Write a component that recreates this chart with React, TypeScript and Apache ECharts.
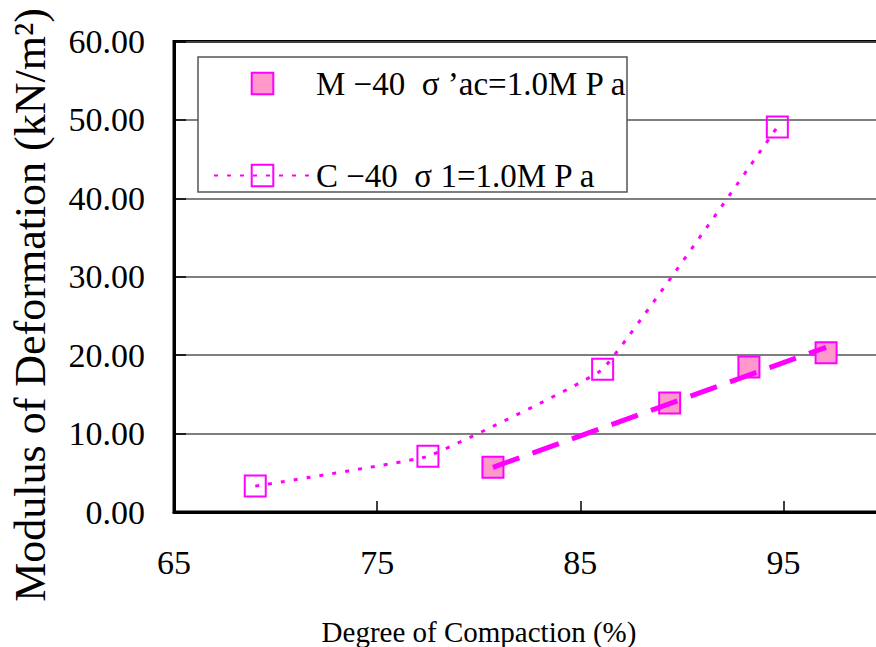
import React, { useEffect, useRef } from "react";
import * as echarts from "echarts";

// Data
const mCompaction = [80.7, 89.4, 93.3, 97.1];
const mModulus = [5.7, 13.9, 18.5, 20.3];
const cCompaction = [69.0, 77.5, 86.1, 94.7];
const cModulus = [3.3, 7.1, 18.2, 49.1];
// dashed trend line of M-40 (end points)
const mTrendCompaction = [80.7, 97.1];
const mTrendModulus = [5.7, 21.0];

const seriesNames = ["M −40  σ ’ac=1.0M P a", "C −40  σ 1=1.0M P a"];
const xTitle = "Degree of Compaction (%)";
const yTitle = "Modulus of Deformation (kN/m²)";

const MAGENTA = "#FF00FF";
const PINK = "#FF99CC";
const SERIF = "Liberation Serif";

export default function App() {
  const ref = useRef<HTMLDivElement>(null);

  useEffect(() => {
    if (!ref.current) return;
    const chart = echarts.init(ref.current, undefined, { renderer: "svg" });
    const mData = mCompaction.map((x, i) => [x, mModulus[i]]);
    const cData = cCompaction.map((x, i) => [x, cModulus[i]]);
    const tData = mTrendCompaction.map((x, i) => [x, mTrendModulus[i]]);

    chart.setOption({
      animation: false,
      backgroundColor: "#fff",
      textStyle: { fontFamily: SERIF },
      grid: {
        left: 174,
        top: 41.5,
        width: 711,
        height: 470.5,
        outerBoundsMode: "none",
        containLabel: false,
        show: true,
        borderColor: "#000",
        borderWidth: 3,
        backgroundColor: "transparent",
      },
      xAxis: {
        type: "value",
        min: 65,
        max: 100,
        interval: 10,
        axisLine: { lineStyle: { color: "#000", width: 3 } },
        axisTick: { inside: true, length: 11, lineStyle: { color: "#000", width: 1.5 } },
        axisLabel: {
          fontSize: 34,
          fontFamily: SERIF,
          color: "#000",
          margin: 33,
          showMaxLabel: false,
        },
        splitLine: { show: false },
      },
      yAxis: {
        type: "value",
        min: 0,
        max: 60,
        interval: 10,
        axisLine: { show: true, lineStyle: { color: "#000", width: 3 } },
        axisTick: { show: true, inside: true, length: 12, lineStyle: { color: "#000", width: 1.5 } },
        axisLabel: {
          fontSize: 34,
          fontFamily: SERIF,
          color: "#000",
          margin: 29,
          formatter: (v: number) => v.toFixed(2),
        },
        splitLine: { show: true, lineStyle: { color: "#555", width: 1.5 } },
      },
      legend: {
        orient: "vertical",
        left: 198,
        top: 57,
        padding: [10, 4, 11, 15],
        itemWidth: 97,
        itemHeight: 27,
        itemGap: 59,
        selectedMode: false,
        z: 6,
        textStyle: { fontFamily: SERIF, fontSize: 33, color: "#000" },
        data: [
          { name: seriesNames[0], lineStyle: { opacity: 0, width: 0 } },
          { name: seriesNames[1] },
        ],
      },
      graphic: [
        {
          type: "rect",
          z: 5,
          shape: { x: 198, y: 57, width: 429, height: 135 },
          style: { fill: "#fff", stroke: "#555", lineWidth: 1.5 },
        },
        {
          type: "text",
          x: 30,
          y: 305,
          rotation: Math.PI / 2,
          style: {
            text: yTitle,
            fontFamily: SERIF,
            fontSize: 44,
            fill: "#000",
            textAlign: "center",
            textVerticalAlign: "middle",
          },
        },
        {
          type: "text",
          x: 479,
          y: 632,
          style: {
            text: xTitle,
            fontFamily: SERIF,
            fontSize: 29,
            fill: "#000",
            textAlign: "center",
            textVerticalAlign: "middle",
          },
        },
      ],
      series: [
        {
          name: seriesNames[0],
          type: "line",
          data: mData,
          symbol: "rect",
          symbolSize: 21,
          lineStyle: { width: 0, opacity: 0 },
          itemStyle: { color: PINK, borderColor: MAGENTA, borderWidth: 2 },
          z: 2,
        },
        {
          name: "M-40 trend",
          type: "line",
          data: tData,
          symbol: "none",
          showSymbol: false,
          lineStyle: { color: MAGENTA, width: 5, type: [28, 14] },
          z: 3,
        },
        {
          name: seriesNames[1],
          type: "line",
          data: cData,
          smooth: 0.08,
          symbol: "rect",
          symbolSize: 21,
          itemStyle: { color: "rgba(255,255,255,0)", borderColor: MAGENTA, borderWidth: 2 },
          lineStyle: { color: MAGENTA, width: 3, type: [4, 9] },
          z: 3,
        },
      ],
    });

    return () => chart.dispose();
  }, []);

  return (
    <div
      ref={ref}
      style={{ position: "fixed", left: 0, top: 0, width: 876, height: 647 }}
    />
  );
}
